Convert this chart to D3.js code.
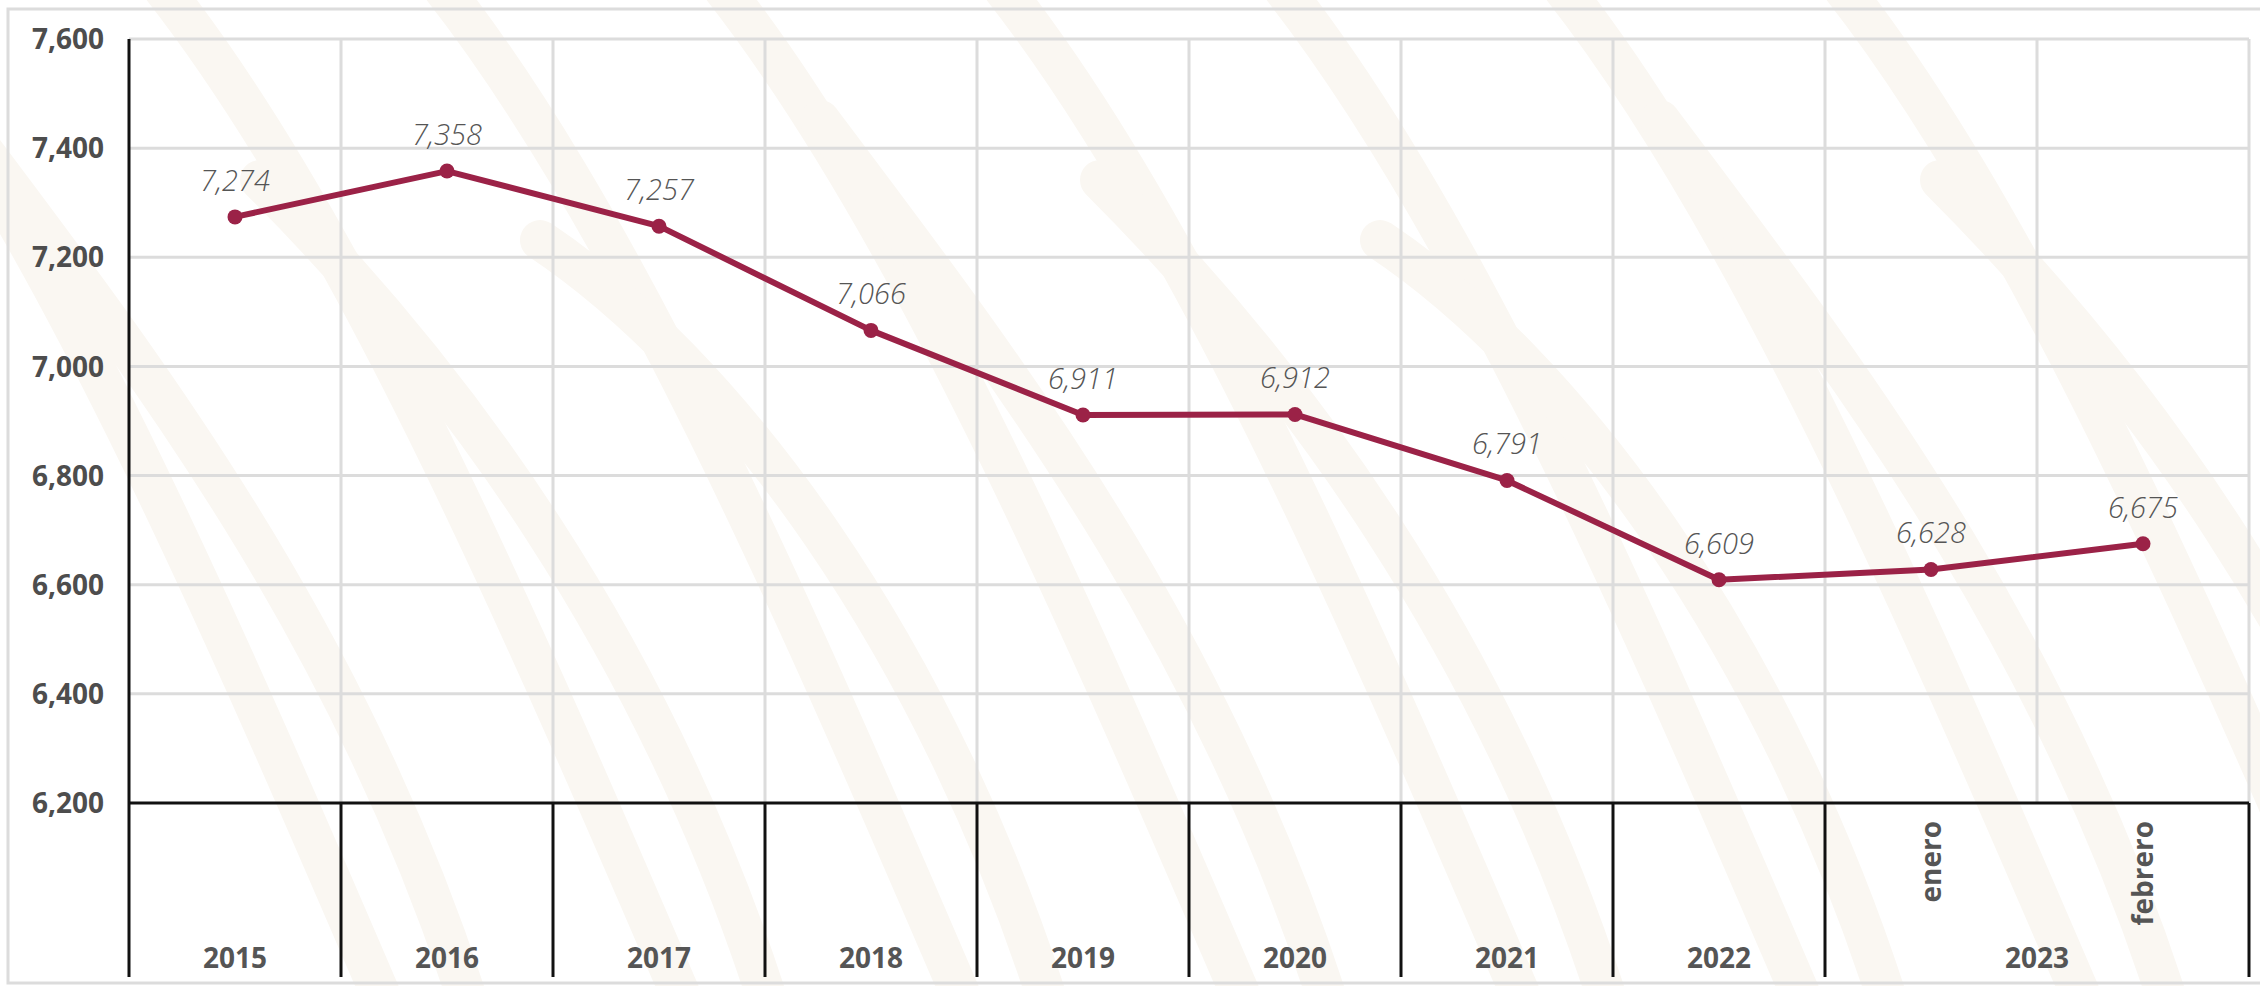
<!DOCTYPE html>
<html>
<head>
<meta charset="utf-8">
<script src="https://cdn.jsdelivr.net/npm/d3@7"></script>
<style>
  body { margin: 0; background: #fff; }
  svg { display: block; font-family: "Open Sans", "DejaVu Sans", sans-serif; }
</style>
</head>
<body>
<div id="chart"></div>
<script>
// data
const years = ["2015", "2016", "2017", "2018", "2019", "2020", "2021", "2022", "enero", "febrero"];
const values = [7274, 7358, 7257, 7066, 6911, 6912, 6791, 6609, 6628, 6675];
const yTicks = [6200, 6400, 6600, 6800, 7000, 7200, 7400, 7600];
// bottom group labels: [label, first index, last index]
const groupLabels = [
  ["2015", 0, 0], ["2016", 1, 1], ["2017", 2, 2], ["2018", 3, 3], ["2019", 4, 4],
  ["2020", 5, 5], ["2021", 6, 6], ["2022", 7, 7], ["2023", 8, 9]
];
const monthLabels = [["enero", 8], ["febrero", 9]];

const svgWidth = 2260;
const svgHeight = 986;
const margin = { top: 39, right: 11, bottom: 183, left: 129 };
const width = svgWidth - margin.left - margin.right;
const height = svgHeight - margin.top - margin.bottom;

const svg = d3.select("#chart")
  .append("svg")
  .attr("width", svgWidth)
  .attr("height", svgHeight);

// faint watermark strokes in the background
const wm = svg.append("g")
  .attr("fill", "none")
  .attr("stroke", "#faf7f2")
  .attr("stroke-width", 40)
  .attr("stroke-linecap", "round");
const wmStarts = [-160, 140, 420, 700, 980, 1260, 1540, 1820];
wmStarts.forEach((s, i) => {
  wm.append("path")
    .attr("d", `M${s},${-40} C${s + 200},${200} ${s + 380},${620} ${s + 560},${1040}`);
  wm.append("path")
    .attr("d", `M${s + 120},${120 + (i % 3) * 60} C${s + 300},${360} ${s + 520},${640} ${s + 640},${1040}`);
});

// outer frame
svg.append("rect")
  .attr("x", 8).attr("y", 9)
  .attr("width", svgWidth).attr("height", svgHeight - 12)
  .attr("fill", "none")
  .attr("stroke", "#dcdcdc")
  .attr("stroke-width", 3);

const chartGroup = svg.append("g")
  .attr("transform", `translate(${margin.left}, ${margin.top})`);

const xBand = d3.scaleBand()
  .domain(d3.range(years.length))
  .range([0, width])
  .padding(0);

const yScale = d3.scaleLinear()
  .domain([6200, 7600])
  .range([height, 0]);

// horizontal gridlines
chartGroup.append("g")
  .selectAll("line")
  .data(yTicks.slice(1))
  .join("line")
  .attr("x1", 0).attr("x2", width)
  .attr("y1", d => yScale(d)).attr("y2", d => yScale(d))
  .attr("stroke", "#dcdcdc")
  .attr("stroke-width", 3);

// vertical gridlines
chartGroup.append("g")
  .selectAll("line")
  .data(d3.range(1, years.length + 1))
  .join("line")
  .attr("x1", d => d * xBand.step()).attr("x2", d => d * xBand.step())
  .attr("y1", 0).attr("y2", height)
  .attr("stroke", "#dcdcdc")
  .attr("stroke-width", 3);

// y axis labels
chartGroup.append("g")
  .selectAll("text")
  .data(yTicks)
  .join("text")
  .attr("x", -25)
  .attr("y", d => yScale(d))
  .attr("dy", "0.36em")
  .attr("text-anchor", "end")
  .style("font-size", "28px")
  .style("font-weight", 700)
  .style("fill", "#4d4d4d")
  .text(d => d3.format(",")(d));

// bottom table lines
const tableBottom = height + 174;
chartGroup.append("line")
  .attr("x1", 0).attr("x2", width)
  .attr("y1", height).attr("y2", height)
  .attr("stroke", "#111").attr("stroke-width", 3);

chartGroup.append("line")
  .attr("x1", 0).attr("x2", 0)
  .attr("y1", 0).attr("y2", tableBottom)
  .attr("stroke", "#111").attr("stroke-width", 3);

chartGroup.append("g")
  .selectAll("line")
  .data(groupLabels)
  .join("line")
  .attr("x1", d => (d[2] + 1) * xBand.step())
  .attr("x2", d => (d[2] + 1) * xBand.step())
  .attr("y1", height).attr("y2", tableBottom)
  .attr("stroke", "#111").attr("stroke-width", 3);

// group labels
chartGroup.append("g")
  .selectAll("text")
  .data(groupLabels)
  .join("text")
  .attr("x", d => (d[1] + d[2] + 1) / 2 * xBand.step())
  .attr("y", height + 165)
  .attr("text-anchor", "middle")
  .style("font-size", "28px")
  .style("font-weight", 700)
  .style("fill", "#555")
  .text(d => d[0]);

// month labels (rotated)
chartGroup.append("g")
  .selectAll("text")
  .data(monthLabels)
  .join("text")
  .attr("transform", d => `translate(${xBand(d[1]) + xBand.bandwidth() / 2 + 10}, ${height + 18}) rotate(-90)`)
  .attr("text-anchor", "end")
  .style("font-size", "28px")
  .style("font-weight", 700)
  .style("fill", "#555")
  .text(d => d[0]);

// line
const line = d3.line()
  .x((d, i) => xBand(i) + xBand.bandwidth() / 2)
  .y(d => yScale(d));

chartGroup.append("path")
  .datum(values)
  .attr("d", line)
  .attr("fill", "none")
  .attr("stroke", "#9b2247")
  .attr("stroke-width", 6)
  .attr("stroke-linejoin", "round");

chartGroup.append("g")
  .selectAll("circle")
  .data(values)
  .join("circle")
  .attr("cx", (d, i) => xBand(i) + xBand.bandwidth() / 2)
  .attr("cy", d => yScale(d))
  .attr("r", 7.5)
  .attr("fill", "#9b2247");

// value labels
chartGroup.append("g")
  .selectAll("text")
  .data(values)
  .join("text")
  .attr("x", (d, i) => xBand(i) + xBand.bandwidth() / 2)
  .attr("y", d => yScale(d) - 26)
  .attr("text-anchor", "middle")
  .style("font-size", "29px")
  .style("font-style", "italic")
  .style("font-weight", 300)
  .style("fill", "#555")
  .text(d => d3.format(",")(d));
</script>
</body>
</html>
